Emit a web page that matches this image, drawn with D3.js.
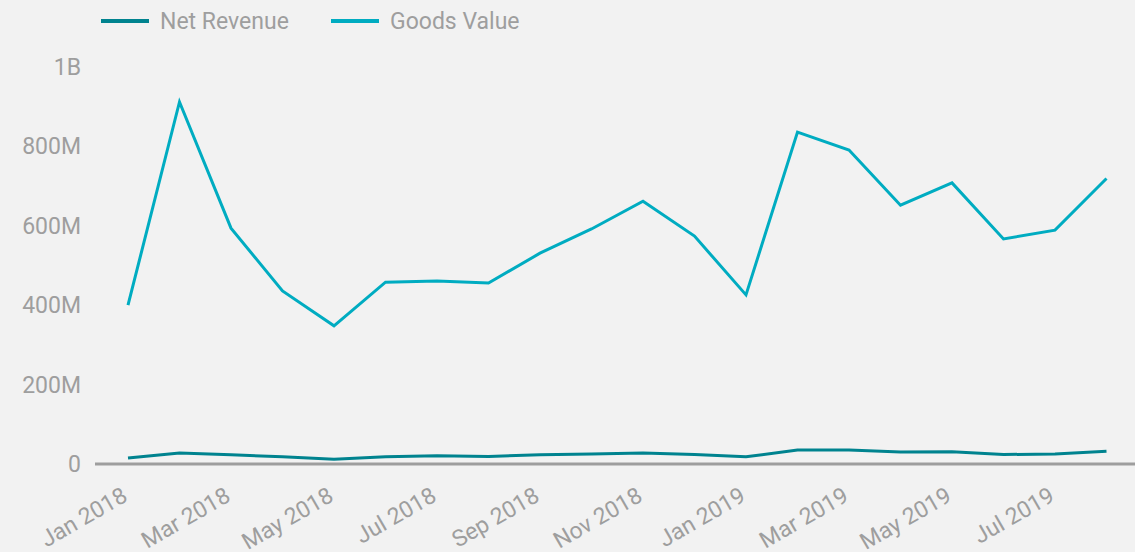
<!DOCTYPE html>
<html>
<head>
<meta charset="utf-8">
<script src="https://cdn.jsdelivr.net/npm/d3@7"></script>
<style>
  body { margin: 0; background: #f2f2f2; }
  svg { display: block; font-family: Roboto, sans-serif; }
</style>
</head>
<body>
<svg id="chart" width="1135" height="552"></svg>
<script>
const months = ["Jan 2018","Feb 2018","Mar 2018","Apr 2018","May 2018","Jun 2018","Jul 2018","Aug 2018","Sep 2018","Oct 2018","Nov 2018","Dec 2018",
                "Jan 2019","Feb 2019","Mar 2019","Apr 2019","May 2019","Jun 2019","Jul 2019","Aug 2019"];
const netRevenue = [15,28,23,18,12,18,21,19,23,25,28,24,18,35,35,30,31,24,25,32].map(v => v * 1e6);
const goodsValue = [400,912,594,436,348,458,461,456,531,592,662,574,426,836,791,652,708,567,589,719].map(v => v * 1e6);
const yTicks = [0, 2e8, 4e8, 6e8, 8e8, 1e9];
const seriesNames = ["Net Revenue", "Goods Value"];
const colors = ["#00838f", "#00acc1"];

function drawChart() {
    const svg = d3.select("#chart");
    svg.selectAll("*").remove();

    const x = d3.scalePoint().domain(months).range([128, 1106.5]);
    const y = d3.scaleLinear().domain([0, 1e9]).range([464, 67]);
    const grey = "#9e9e9e";

    // y labels
    svg.append("g")
        .selectAll("text")
        .data(yTicks)
        .join("text")
        .attr("x", 81)
        .attr("y", d => y(d))
        .attr("dy", "0.35em")
        .attr("text-anchor", "end")
        .attr("fill", grey)
        .style("font-size", "23px")
        .text(d => d === 0 ? "0" : d >= 1e9 ? (d / 1e9) + "B" : (d / 1e6) + "M");

    // baseline
    svg.append("line")
        .attr("x1", 95).attr("x2", 1135)
        .attr("y1", y(0)).attr("y2", y(0))
        .attr("stroke", grey)
        .attr("stroke-width", 3);

    // x labels, every other month
    svg.append("g")
        .selectAll("text")
        .data(months.filter((d, i) => i % 2 === 0))
        .join("text")
        .attr("transform", d => `translate(${x(d) + 1},500) rotate(-30)`)
        .attr("text-anchor", "end")
        .attr("fill", grey)
        .style("font-size", "23px")
        .text(d => d);

    const line = d3.line()
        .x((d, i) => x(months[i]))
        .y(d => y(d));

    [netRevenue, goodsValue].forEach((s, k) => {
        svg.append("path")
            .datum(s)
            .attr("d", line)
            .attr("fill", "none")
            .attr("stroke", colors[k])
            .attr("stroke-width", 3);
    });

    // legend
    const legendX = [101, 331];
    seriesNames.forEach((name, k) => {
        svg.append("line")
            .attr("x1", legendX[k]).attr("x2", legendX[k] + 48)
            .attr("y1", 21).attr("y2", 21)
            .attr("stroke", colors[k])
            .attr("stroke-width", 4);
        svg.append("text")
            .attr("x", legendX[k] + 59)
            .attr("y", 21)
            .attr("dy", "0.35em")
            .attr("fill", grey)
            .style("font-size", "23px")
            .text(name);
    });
}

drawChart();
</script>
</body>
</html>
